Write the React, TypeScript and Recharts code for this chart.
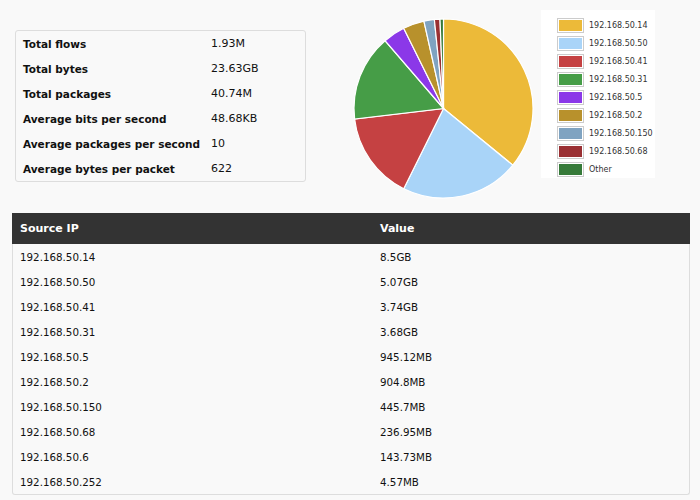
import { PieChart, Pie, Cell, Legend } from 'recharts';

// summary stats
const statLabels = [
  'Total flows',
  'Total bytes',
  'Total packages',
  'Average bits per second',
  'Average packages per second',
  'Average bytes per packet',
];
const statValues = ['1.93M', '23.63GB', '40.74M', '48.68KB', '10', '622'];

// pie slices (GB)
const sliceNames = [
  '192.168.50.14',
  '192.168.50.50',
  '192.168.50.41',
  '192.168.50.31',
  '192.168.50.5',
  '192.168.50.2',
  '192.168.50.150',
  '192.168.50.68',
  'Other',
];
const sliceValues = [8.5, 5.07, 3.74, 3.68, 0.945, 0.905, 0.446, 0.237, 0.148];
const sliceColors = [
  '#ecba39',
  '#a9d4f8',
  '#c54142',
  '#469d47',
  '#8b38e8',
  '#b8912c',
  '#7fa3c1',
  '#9a3033',
  '#367a39',
];

// table rows
const tableIps = [
  '192.168.50.14',
  '192.168.50.50',
  '192.168.50.41',
  '192.168.50.31',
  '192.168.50.5',
  '192.168.50.2',
  '192.168.50.150',
  '192.168.50.68',
  '192.168.50.6',
  '192.168.50.252',
];
const tableValues = [
  '8.5GB',
  '5.07GB',
  '3.74GB',
  '3.68GB',
  '945.12MB',
  '904.8MB',
  '445.7MB',
  '236.95MB',
  '143.73MB',
  '4.57MB',
];

const FONT = "'DejaVu Sans', Verdana, sans-serif";
const BG = '#f9f9f9';

const pieData = sliceNames.map((name, i) => ({ name, value: sliceValues[i] }));

function LegendBox(props: any) {
  const payload = props.payload || [];
  return (
    <div
      style={{
        background: '#fff',
        width: 114,
        height: 168,
        paddingTop: 6,
        boxSizing: 'border-box',
      }}
    >
      {payload.map((p: any, i: number) => (
        <div key={i} style={{ display: 'flex', alignItems: 'center', height: 18 }}>
          <div
            style={{
              marginLeft: 16,
              width: 23,
              height: 11,
              border: '1px solid #ccc',
              padding: 1,
              background: '#fff',
            }}
          >
            <div style={{ width: '100%', height: '100%', background: p.color }} />
          </div>
          <span style={{ marginLeft: 5, fontSize: 8, color: '#333', fontFamily: FONT }}>{p.value}</span>
        </div>
      ))}
    </div>
  );
}

export default function App() {
  return (
    <div style={{ position: 'fixed', inset: 0, background: BG, fontFamily: FONT, color: '#111' }}>
      {/* stats box */}
      <div
        style={{
          position: 'absolute',
          left: 15,
          top: 30,
          width: 289,
          height: 150,
          border: '1px solid #ddd',
          borderRadius: 3,
          background: BG,
          boxSizing: 'content-box',
        }}
      >
        {statLabels.map((label, i) => (
          <div key={label} style={{ display: 'flex', height: 25, alignItems: 'center', fontSize: 11 }}>
            <span
              style={{
                width: 195,
                paddingLeft: 7,
                fontWeight: 'bold',
                fontSize: 10.5,
                whiteSpace: 'nowrap',
                boxSizing: 'border-box',
              }}
            >
              {label}
            </span>
            <span>{statValues[i]}</span>
          </div>
        ))}
      </div>

      {/* pie + legend */}
      <div style={{ position: 'absolute', left: 340, top: 8 }}>
        <PieChart width={320} height={200} margin={{ top: 0, right: 0, bottom: 0, left: 0 }}>
          <Pie
            data={pieData}
            dataKey="value"
            nameKey="name"
            cx={103.5}
            cy={100.5}
            outerRadius={89.5}
            startAngle={90}
            endAngle={-270}
            stroke="#fff"
            strokeWidth={1.2}
            isAnimationActive={false}
          >
            {pieData.map((d, i) => (
              <Cell key={d.name} fill={sliceColors[i]} />
            ))}
          </Pie>
          <Legend
            layout="vertical"
            align="right"
            verticalAlign="top"
            itemSorter={(item: any) => sliceNames.indexOf(item.value)}
            content={<LegendBox />}
            wrapperStyle={{ left: 201, top: 2, width: 114 }}
          />
        </PieChart>
      </div>

      {/* source IP table */}
      <div
        style={{
          position: 'absolute',
          left: 12,
          top: 213,
          width: 678,
          border: '1px solid #ddd',
          borderTop: 'none',
          borderRadius: '0 0 3px 3px',
          background: BG,
          boxSizing: 'border-box',
        }}
      >
        <div
          style={{
            display: 'flex',
            alignItems: 'center',
            height: 31,
            background: '#333',
            color: '#fff',
            fontWeight: 'bold',
            fontSize: 11,
            margin: '0 -1px',
          }}
        >
          <span style={{ width: 368, paddingLeft: 8, boxSizing: 'border-box' }}>Source IP</span>
          <span>Value</span>
        </div>
        {tableIps.map((ip, i) => (
          <div key={ip} style={{ display: 'flex', alignItems: 'center', height: 25, fontSize: 10.3 }}>
            <span style={{ width: 367, paddingLeft: 7, boxSizing: 'border-box' }}>{ip}</span>
            <span>{tableValues[i]}</span>
          </div>
        ))}
      </div>
    </div>
  );
}
